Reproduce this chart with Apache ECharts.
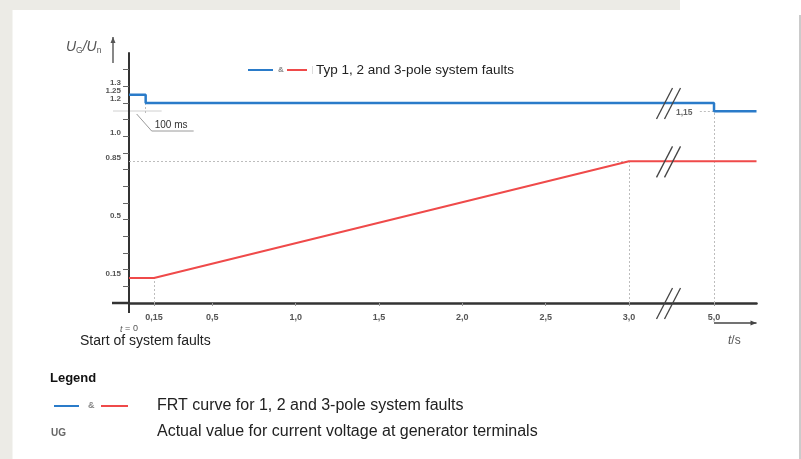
<!DOCTYPE html>
<html><head><meta charset="utf-8">
<script src="https://cdn.jsdelivr.net/npm/echarts@6/dist/echarts.min.js"></script>
<style>html,body{margin:0;padding:0;background:#fff;} #c{width:801px;height:459px;}</style>
</head><body><div id="c"></div>
<script>
// ---- data ----
const breakStart = 3.0, breakEnd = 5.0, breakScale = 0.255;
const blueT = [0, 0.1, 0.1, 5.0, 5.0, 6.0];
const blueU = [1.25, 1.25, 1.2, 1.2, 1.15, 1.15];
const redT = [0, 0.15, 3.0, 6.0];
const redU = [0.15, 0.15, 0.85, 0.85];
const xTicks = [0.15, 0.5, 1.0, 1.5, 2.0, 2.5, 3.0, 5.0];
const xTickLabels = ['0,15', '0,5', '1,0', '1,5', '2,0', '2,5', '3,0', '5,0'];
const yTicks = [0.15, 0.5, 0.85, 1.0, 1.2, 1.25, 1.3];
const yTickLabels = ['0.15', '0.5', '0.85', '1.0', '1.2', '1.25', '1.3'];
const yMinorTicks = [0.1, 0.2, 0.3, 0.4, 0.5, 0.6, 0.7, 0.8, 0.9, 1.0, 1.1, 1.2, 1.3, 1.4];

const BLUE = '#2a7bc9', RED = '#ef4a4a', GRID_GREY = '#bdbdbd', TXT = '#555';
function disp(t) { return t <= breakStart ? t : breakStart + (t - breakStart) * breakScale; }
const fmt = v => Math.round(v * 1000) / 1000;
const xTickPos = xTicks.map(t => fmt(disp(t)));
const xLabelMap = {}; xTickPos.forEach((p, i) => xLabelMap[p] = xTickLabels[i]);
const yLabelMap = {}; yTicks.forEach((v, i) => yLabelMap[fmt(v)] = yTickLabels[i]);
const breakX = (disp(breakStart) + disp(breakEnd)) / 2;

const chart = echarts.init(document.getElementById('c'), null, {renderer: 'canvas'});
const xMax = disp(6.0);
const unit = 166.67;
const option = {
  animation: false,
  backgroundColor: '#fff',
  grid: {left: 129, top: 53, width: xMax * unit, height: 1.5 * unit, containLabel: false},
  xAxis: {
    type: 'value', min: 0, max: xMax, splitLine: {show: false},
    axisLine: {lineStyle: {color: '#333', width: 2.5}},
    axisTick: {show: true, customValues: xTickPos, length: 3, lineStyle: {color: '#999'}},
    axisLabel: {customValues: xTickPos, formatter: v => xLabelMap[fmt(v)] || '', fontSize: 9, fontWeight: 'bold',
      color: TXT, fontFamily: 'Liberation Sans', margin: 10, hideOverlap: false}
  },
  yAxis: {
    type: 'value', min: 0, max: 1.5, splitLine: {show: false},
    axisLine: {lineStyle: {color: '#333', width: 2}},
    axisTick: {show: true, customValues: yMinorTicks, length: 6, lineStyle: {color: '#666'}},
    axisLabel: {customValues: yTicks, formatter: v => yLabelMap[fmt(v)] || '', fontSize: 8, fontWeight: 'bold',
      color: TXT, fontFamily: 'Liberation Sans', margin: 8, verticalAlign: 'bottom', hideOverlap: false,
      showMaxLabel: true, showMinLabel: true}
  },
  series: [
    {
      type: 'line', name: 'blue', showSymbol: false, z: 5,
      data: blueT.map((t, i) => [disp(t), blueU[i]]),
      lineStyle: {color: BLUE, width: 2.5}
    },
    {
      type: 'line', name: 'red', showSymbol: false, z: 5,
      data: redT.map((t, i) => [disp(t), redU[i]]),
      lineStyle: {color: RED, width: 2},
      markLine: {
        silent: true, symbol: 'none', label: {show: false},
        lineStyle: {type: [2, 2], color: GRID_GREY, width: 1},
        data: [
          [{coord: [disp(redT[1]), 0]}, {coord: [disp(redT[1]), redU[1]]}],
          [{coord: [0, redU[2]]}, {coord: [disp(redT[2]), redU[2]]}],
          [{coord: [disp(redT[2]), 0]}, {coord: [disp(redT[2]), redU[2]]}],
          [{coord: [disp(blueT[3]), 0]}, {coord: [disp(blueT[3]), blueU[4]]}],
          [{coord: [disp(blueT[3]) - 0.085, blueU[4]]}, {coord: [disp(blueT[3]), blueU[4]]}],
          [{coord: [disp(blueT[1]), blueU[2]]}, {coord: [disp(blueT[1]), 1.13]}]
        ]
      }
    },
    {
      type: 'custom', z: 8,
      data: [[breakX, blueU[2]], [breakX, redU[2]], [breakX, 0]],
      renderItem: function (params, api) {
        const p = api.coord([api.value(0), api.value(1)]);
        const mk = dx => ({type: 'line', shape: {x1: p[0] - 11 + dx, y1: p[1] + 16, x2: p[0] + 5 + dx, y2: p[1] - 15},
          style: {stroke: '#444', lineWidth: 1.3}});
        return {type: 'group', children: [mk(-4), mk(4)]};
      }
    }
  ]
};
chart.setOption(option);

const P = (t, u) => chart.convertToPixel({gridIndex: 0}, [disp(t), u]);
const o = P(0, 0);
const p115 = P(blueT[3], blueU[4]);
const p01 = P(blueT[1], blueU[2]);
const arrow = (x1, y1, x2, y2, col) => {
  const a = Math.atan2(y2 - y1, x2 - x1), L = 6, W = 2.5;
  return [
    {type: 'line', shape: {x1, y1, x2, y2}, style: {stroke: col, lineWidth: 1.4}},
    {type: 'polygon', shape: {points: [[x2, y2],
      [x2 - L * Math.cos(a) + W * Math.sin(a), y2 - L * Math.sin(a) - W * Math.cos(a)],
      [x2 - L * Math.cos(a) - W * Math.sin(a), y2 - L * Math.sin(a) + W * Math.cos(a)]]}, style: {fill: col}}
  ];
};
const graphics = [
  {type: 'rect', shape: {x: 0, y: 0, width: 680, height: 10}, style: {fill: '#ecebe6'}, z: -10},
  {type: 'rect', shape: {x: 0, y: 0, width: 12.5, height: 459}, style: {fill: '#ecebe6'}, z: -10},
  {type: 'line', shape: {x1: 800, y1: 15, x2: 800, y2: 459}, style: {stroke: '#a8a8a8', lineWidth: 1.2}},
  // axis extensions past origin
  {type: 'line', shape: {x1: o[0] - 17, y1: o[1], x2: o[0], y2: o[1]}, style: {stroke: '#333', lineWidth: 2.5}},
  {type: 'line', shape: {x1: o[0], y1: o[1], x2: o[0], y2: o[1] + 10}, style: {stroke: '#333', lineWidth: 2}},
  // y title
  {type: 'text', x: 66, y: 47, style: {text: '{i|U}{s|G}{i|/U}{s|n}', verticalAlign: 'middle', fill: TXT,
    rich: {i: {fontSize: 14, fontStyle: 'italic', fontFamily: 'Liberation Sans', fill: TXT},
           s: {fontSize: 8.5, fontFamily: 'Liberation Sans', fill: TXT, padding: [7, 0, 0, 0]}}}},
  ...arrow(113, 63, 113, 37, '#555'),
  // x title
  ...arrow(P(breakEnd, 0)[0], o[1] + 20, P(6.0, 0)[0], o[1] + 20, '#444'),
  {type: 'text', x: 728, y: 341, style: {text: '{i|t}{n|/s}', verticalAlign: 'middle', fill: TXT,
    rich: {i: {fontSize: 12, fontStyle: 'italic', fontFamily: 'Liberation Sans', fill: TXT},
           n: {fontSize: 12, fontFamily: 'Liberation Sans', fill: TXT}}}},
  // t = 0
  {type: 'text', x: o[0], y: o[1] + 26, style: {text: '{i|t}{n| = 0}', align: 'center', verticalAlign: 'middle',
    rich: {i: {fontSize: 9, fontStyle: 'italic', fontFamily: 'Liberation Sans', fill: TXT},
           n: {fontSize: 9, fontFamily: 'Liberation Sans', fill: TXT}}}},
  {type: 'text', x: 80, y: 341, style: {text: 'Start of system faults', verticalAlign: 'middle', fontSize: 14,
    fontFamily: 'Liberation Sans', fill: '#222'}},
  // 100 ms annotation
  {type: 'line', shape: {x1: o[0] - 16, y1: p01[1] + 8, x2: p01[0] + 16, y2: p01[1] + 8}, style: {stroke: '#d0d0d0', lineWidth: 1}},
  {type: 'polyline', shape: {points: [[p01[0] - 9, p01[1] + 11], [p01[0] + 6, p01[1] + 28], [p01[0] + 48, p01[1] + 28]]},
    style: {stroke: '#9a9a9a', lineWidth: 1, fill: null}},
  {type: 'text', x: p01[0] + 9, y: p01[1] + 22, style: {text: '100 ms', verticalAlign: 'middle', fontSize: 10,
    fontFamily: 'Liberation Sans', fill: '#333'}},
  // 1,15 label
  {type: 'text', x: p115[0] - 38, y: p115[1] + 1, style: {text: '1,15', verticalAlign: 'middle', fontSize: 8.5, fontWeight: 'bold',
    fontFamily: 'Liberation Sans', fill: '#666'}},
  // top legend
  {type: 'line', shape: {x1: 248, y1: 70, x2: 273, y2: 70}, style: {stroke: BLUE, lineWidth: 2}},
  {type: 'text', x: 278, y: 70, style: {text: '&', verticalAlign: 'middle', fontSize: 8, fontWeight: 'bold', fontFamily: 'Liberation Sans', fill: '#888'}},
  {type: 'line', shape: {x1: 287, y1: 70, x2: 307, y2: 70}, style: {stroke: RED, lineWidth: 2}},
  {type: 'line', shape: {x1: 312.5, y1: 66, x2: 312.5, y2: 74}, style: {stroke: '#ddd', lineWidth: 1}},
  {type: 'text', x: 316, y: 70, style: {text: 'Typ 1, 2 and 3-pole system faults', verticalAlign: 'middle', fontSize: 13.5,
    fontFamily: 'Liberation Sans', fill: '#222'}},
  // bottom legend
  {type: 'text', x: 50, y: 378, style: {text: 'Legend', verticalAlign: 'middle', fontSize: 13, fontWeight: 'bold',
    fontFamily: 'Liberation Sans', fill: '#111'}},
  {type: 'line', shape: {x1: 54, y1: 406, x2: 79, y2: 406}, style: {stroke: BLUE, lineWidth: 2}},
  {type: 'text', x: 88, y: 406, style: {text: '&', verticalAlign: 'middle', fontSize: 9, fontWeight: 'bold', fontFamily: 'Liberation Sans', fill: '#888'}},
  {type: 'line', shape: {x1: 101, y1: 406, x2: 128, y2: 406}, style: {stroke: RED, lineWidth: 2}},
  {type: 'text', x: 157, y: 406, style: {text: 'FRT curve for 1, 2 and 3-pole system faults', verticalAlign: 'middle', fontSize: 16,
    fontFamily: 'Liberation Sans', fill: '#222'}},
  {type: 'text', x: 51, y: 433, style: {text: 'UG', verticalAlign: 'middle', fontSize: 10, fontWeight: 'bold',
    fontFamily: 'Liberation Sans', fill: '#666'}},
  {type: 'text', x: 157, y: 432, style: {text: 'Actual value for current voltage at generator terminals', verticalAlign: 'middle', fontSize: 16,
    fontFamily: 'Liberation Sans', fill: '#222'}}
];
chart.setOption({graphic: graphics});
</script></body></html>
